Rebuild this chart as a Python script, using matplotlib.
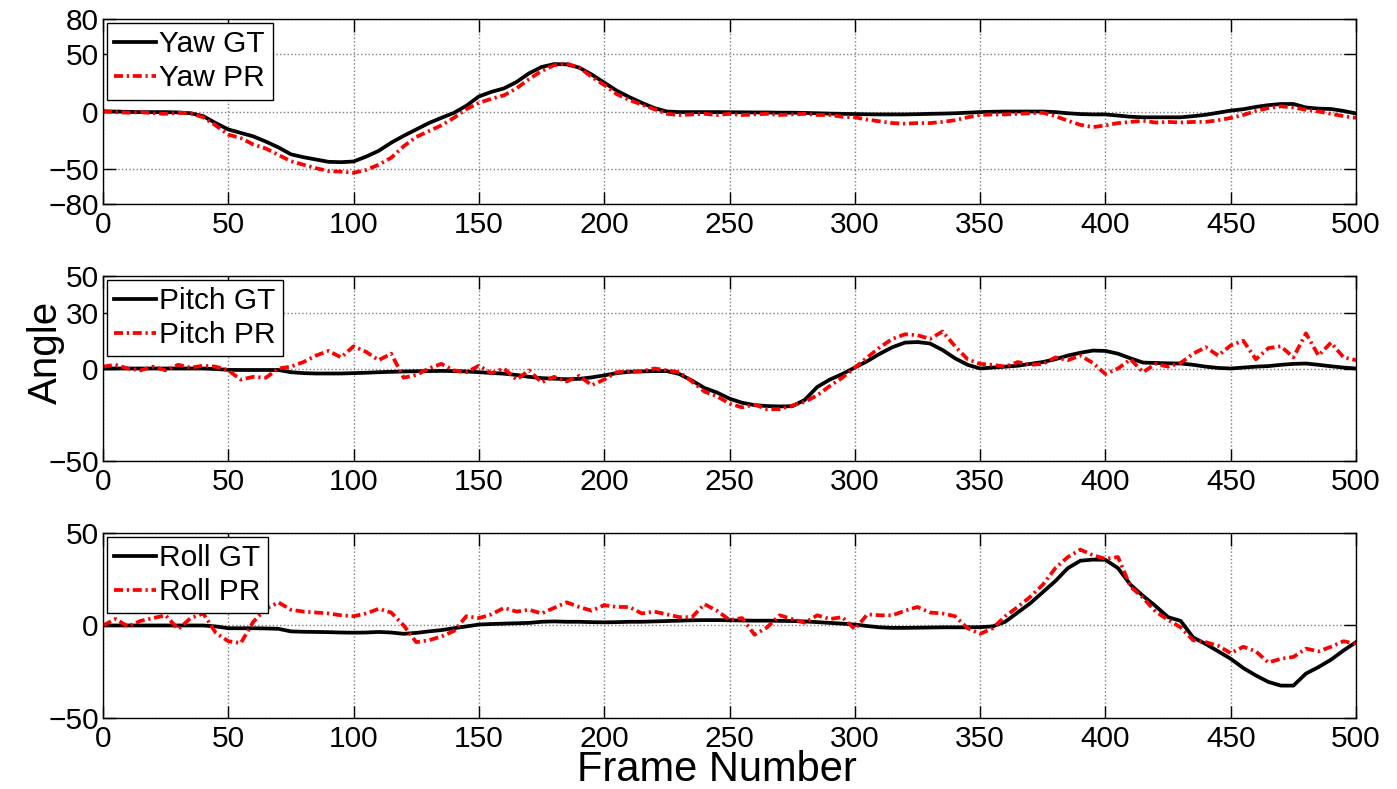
import matplotlib
matplotlib.use("Agg")
import matplotlib.pyplot as plt
import numpy as np

plt.rcParams["font.family"] = ["Liberation Sans", "DejaVu Sans"]

# кадры (шаг 5)
frames = np.arange(0, 501, 5)

yaw_gt = [0, 0, -0.3, -0.5, -0.5, -0.5, -0.8, -1.5, -4, -10,
          -15.5, -18.5, -21.5, -26, -31, -37, -39.5, -41.5, -43.5, -43.8,
          -43.2, -39, -34, -27, -21, -15.5, -10, -5.5, -1.2, 5,
          13, 17, 20, 25.5, 33, 38.5, 41, 40.8, 38, 32,
          25, 18, 12.5, 7.5, 3, 0, -0.5, -0.5, -0.5, -0.5,
          -0.6, -0.7, -0.8, -0.8, -1, -1, -1.2, -1.5, -1.8, -2,
          -2.2, -2.4, -2.5, -2.5, -2.5, -2.3, -2, -1.8, -1.5, -1,
          -0.5, -0.2, 0, 0, 0, 0, -0.5, -1.5, -2.2, -2.5,
          -2.5, -3.5, -4.5, -5, -5, -5, -5, -4, -2.8, -1,
          0.8, 2, 4, 5.5, 6.5, 6.5, 3.5, 2.5, 2.2, 0.5,
          -1.7]
yaw_pr = [0.5, -0.5, -1, -0.5, -1.5, -2, -1, -1.5, -5, -12,
          -20, -23, -28.5, -32, -37.5, -43, -46, -49, -51.5, -52,
          -53, -50.5, -46, -40, -30, -22, -17, -12, -5.5, 2,
          7.5, 11, 14, 20, 28, 35, 40, 41.5, 38, 30,
          23, 15, 10, 6, 2, -2, -3, -2.5, -2, -3,
          -2, -3, -2.5, -2, -3, -2.5, -2, -3, -3, -4.5,
          -5, -7, -8.5, -10, -10.5, -10, -10, -9, -7.5, -5,
          -3, -2.5, -2.5, -2, -1.5, -1, -4, -8, -11.5, -13.5,
          -12, -10, -9, -8, -9.5, -9, -9.5, -9, -9, -7.5,
          -5.5, -3, 0.5, 3, 4.5, 3.5, 1.5, 0, -2, -4,
          -5.5]

pitch_gt = [0, 0, 0, 0, 0, 0, 0, 0, 0, -0.3,
            -0.7, -0.8, -0.8, -0.8, -0.8, -2, -2.5, -2.7, -2.7, -2.7,
            -2.5, -2.3, -2, -1.8, -1.6, -1.5, -1.4, -1.3, -1.4, -1.6,
            -2, -2.4, -2.8, -3.5, -4.5, -5.2, -5.5, -5.8, -5.6, -4.8,
            -3.7, -2.5, -1.8, -1.6, -1.4, -1.4, -3, -6.5, -10.5, -13,
            -16.3, -18.5, -19.8, -20.3, -20.5, -20.4, -17, -10, -6, -3,
            0.5, 4, 8, 11.5, 14, 14.3, 13.5, 10, 5.5, 2,
            0, 0.5, 1, 1.5, 2.5, 3.5, 5, 7, 8.5, 9.7,
            9.5, 8, 5.5, 3.2, 3, 2.8, 2.7, 2, 1, 0.3,
            0, 0.5, 1, 1.3, 2, 2.5, 2.7, 2, 1.2, 0.5,
            0]
pitch_pr = [1, 2, 0, -1, 1, -1, 2, 0.5, 1.5, 1,
            -1, -6, -4.5, -5, 0, 1, 3.5, 7, 9.5, 6,
            12, 9, 4.5, 8, -5, -3.5, 0, 2.5, -1, -2,
            1.5, -2.5, 0, -6, -1, -7.5, -4.5, -7, -4, -9,
            -6, -2, -1.5, -1.5, 0, -1, -2, -7, -12.5, -15,
            -19, -21, -19.5, -22, -22, -20, -18, -14.5, -9.5, -5,
            0.5, 6, 11.5, 16, 18.5, 18, 16, 20, 12, 5,
            2.5, 2, 1, 3.5, 2, 2.5, 6, 4.5, 7, 3,
            -3, 0, 5, -2, 2.5, 1, 3, 8, 11.5, 7,
            12.5, 15, 5, 11, 12, 6, 19, 7, 14, 6,
            4.5]

roll_gt = [0, 0, 0, 0, 0, 0, 0, 0, 0, -0.5,
           -1.5, -1.5, -1.5, -1.6, -1.8, -3.2, -3.4, -3.5, -3.6, -3.8,
           -3.9, -3.8, -3.5, -3.8, -4.5, -4, -3.2, -2.5, -1.5, -0.5,
           0.5, 0.8, 1, 1.2, 1.4, 2, 2.2, 2, 2, 1.8,
           1.7, 1.8, 2, 2, 2.2, 2.4, 2.6, 2.8, 2.9, 2.9,
           2.8, 2.7, 2.6, 2.6, 2.5, 2.4, 2.2, 1.8, 1.4, 1,
           0.5, -0.3, -1, -1.3, -1.3, -1.2, -1.1, -1, -1, -1,
           -0.9, -0.5, 2, 7, 12, 18, 24, 31, 35, 35.6,
           35.5, 31, 22, 16, 10.5, 4.5, 2.5, -6.5, -10, -14,
           -18, -23, -27, -30.5, -32.5, -32.5, -26, -22.5, -18.5, -13.5,
           -9]
roll_pr = [0, 3.5, -0.5, 2.5, 4, 5.5, -2, 4, 6.5, -4,
           -8.5, -9.5, 2, 9, 12.5, 8.5, 7.5, 7, 6.5, 5.5,
           5, 6.5, 9, 7, 0, -9, -8, -6, -3, 5,
           4, 6, 9.5, 7.5, 8.5, 6.5, 9.5, 12.5, 10, 8,
           11, 10, 10, 6.5, 7.5, 6, 4.5, 4.5, 11.5, 8,
           3, 4, -5, -1, 5.5, 3.5, 1.5, 5.5, 3.5, 4.5,
           -2, 6, 5.5, 5.5, 8, 10, 7, 6.5, 5, -1.5,
           -4.5, -1.5, 5, 10, 15.5, 22, 31, 37, 41, 38,
           36, 37, 21, 15, 7.5, 3, -1, -8, -9, -11,
           -15, -11.5, -14, -20, -18, -17, -12.5, -14, -11.5, -8.5,
           -10]

panels = [
    ("Yaw", yaw_gt, yaw_pr, (-80, 80), [-80, -50, 0, 50, 80], 0.7414),
    ("Pitch", pitch_gt, pitch_pr, (-50, 50), [-50, 0, 30, 50], 0.4157),
    ("Roll", roll_gt, roll_pr, (-50, 50), [-50, 0, 50], 0.0900),
]

fig = plt.figure(figsize=(13.97, 7.89), dpi=100)

for name, gt, pr, ylim, yticks, bottom in panels:
    ax = fig.add_axes([0.0737, bottom, 0.897, 0.2345])
    ax.plot(frames, gt, color="black", linewidth=2.7, label=name + " GT")
    ax.plot(frames, pr, color="red", linewidth=2.7, linestyle="-.",
            dashes=(2.4, 1.0, 0.6, 1.0), label=name + " PR")
    ax.set_xlim(0, 500)
    ax.set_ylim(*ylim)
    ax.set_xticks(range(0, 501, 50))
    ax.set_yticks(yticks)
    ax.grid(True, linestyle=":", color="#7f7f7f", linewidth=1.0)
    ax.tick_params(direction="in", length=9, width=1, top=True, right=True,
                   labelsize=21.5)
    ax.tick_params(axis="x", pad=5)
    ax.tick_params(axis="y", pad=3)
    for s in ax.spines.values():
        s.set_linewidth(1.0)
    leg = ax.legend(loc="upper left", fontsize=21.5, handlelength=1.4,
                    handletextpad=0.12, labelspacing=0.2, borderpad=0.25,
                    borderaxespad=0.12, fancybox=False, framealpha=1)
    leg.get_frame().set_edgecolor("black")
    leg.get_frame().set_linewidth(1.0)

fig.text(0.033, 0.553, "Angle", rotation=90, fontsize=29, ha="center", va="center")
fig.text(0.513, 0.024, "Frame Number", fontsize=30, ha="center", va="center")

plt.savefig("out.png", dpi=100)
